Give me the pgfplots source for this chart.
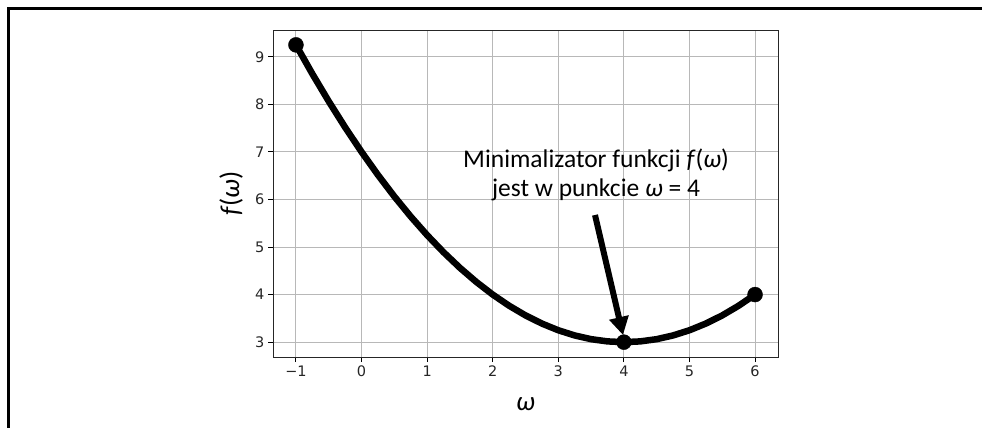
\documentclass[border=0pt]{standalone}
\usepackage{fontspec}
\setmainfont{Carlito}
\newfontfamily\tickfont{DejaVu Sans}
\usepackage{pgfplots}
\pgfplotsset{compat=1.18}
\usetikzlibrary{arrows.meta}
\pgfplotstableread{
w f
-1 9.25
-0.75 8.640625
-0.5 8.0625
-0.25 7.515625
0 7
0.25 6.515625
0.5 6.0625
0.75 5.640625
1 5.25
1.25 4.890625
1.5 4.5625
1.75 4.265625
2 4
2.25 3.765625
2.5 3.5625
2.75 3.390625
3 3.25
3.25 3.140625
3.5 3.0625
3.75 3.015625
4 3
4.25 3.015625
4.5 3.0625
4.75 3.140625
5 3.25
5.25 3.390625
5.5 3.5625
5.75 3.765625
6 4
}\curve
\pgfplotstableread{
w f
-1 9.25
4 3
6 4
}\pts
\begin{document}
\begin{tikzpicture}[x=1pt,y=1pt]
\useasboundingbox (0,0) rectangle (982,-428);
\draw[line width=3pt] (8,-428) -- (8,-9) -- (982,-9);
\begin{axis}[
  at={(273pt,-357pt)}, anchor=south west, scale only axis,
  width=505pt, height=327pt,
  xmin=-1.35, xmax=6.35, ymin=2.6875, ymax=9.5625,
  xtick={-1,0,1,2,3,4,5,6}, xticklabels={−1,0,1,2,3,4,5,6},
  ytick={3,4,5,6,7,8,9},
  tick pos=left, tick align=outside, major tick length=5pt,
  grid=major, grid style={line width=1pt, color=black!28},
  axis line style={line width=1pt, black!85},
  tick style={line width=1pt, black},
  /pgf/number format/assume math mode=true,
  tick label style={font=\tickfont\fontsize{14.5}{14.5}\selectfont, text=black!85},
  xlabel={\textit{ω}}, ylabel={\textit{f}(\textit{ω})},
  label style={font=\fontsize{27}{27}\selectfont},
  every axis x label/.append style={at={(axis description cs:0.5,-0.145)}, anchor=center},
  every axis y label/.append style={at={(axis description cs:-0.083,0.5)}, anchor=center, rotate=0},
  clip=false,
]
\addplot[black, line width=6.5pt, line join=round, line cap=round] table[x=w,y=f] {\curve};
\addplot[only marks, mark=*, mark size=7.5pt, black] table[x=w,y=f] {\pts};
\end{axis}
\node[anchor=base, font=\fontsize{25.5}{25.5}\selectfont] at (596,-167) {Minimalizator funkcji \textit{f}(\textit{ω})};
\node[anchor=base, font=\fontsize{25.5}{25.5}\selectfont] at (596,-196) {jest w punkcie \textit{ω} = 4};
\draw[line width=6pt, -{Triangle[width=19pt,length=18pt]}] (595,-215) -- (623,-335);
\end{tikzpicture}
\end{document}
